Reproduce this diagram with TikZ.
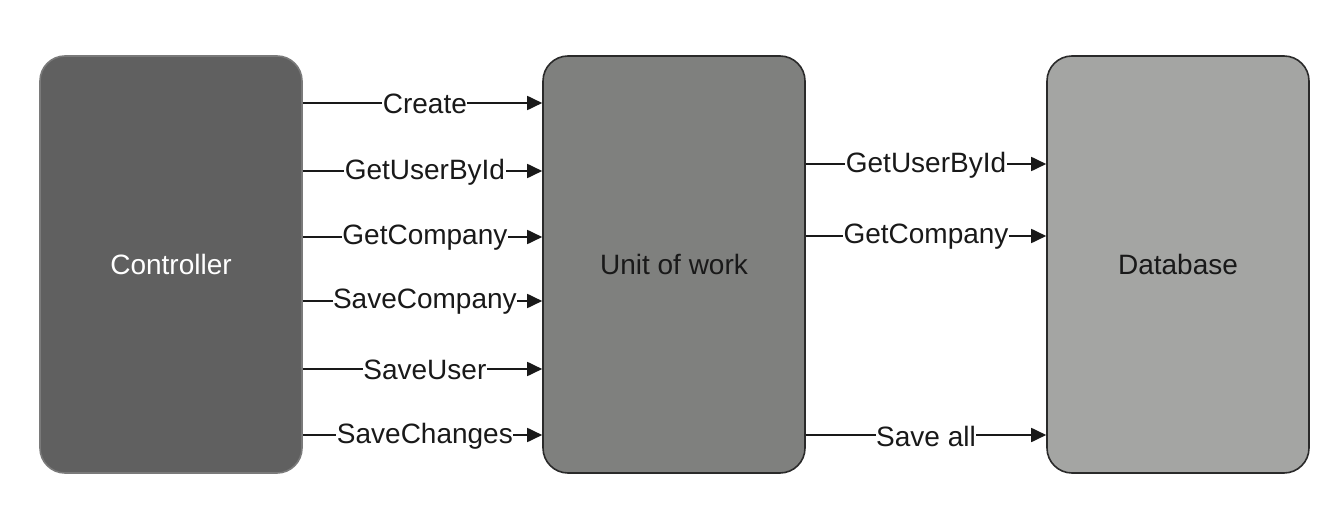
\documentclass[tikz,border=0pt]{standalone}
\usepackage{fontspec}
\setmainfont{Liberation Sans}
\usetikzlibrary{arrows.meta}
\definecolor{ctrlfill}{HTML}{606060}
\definecolor{ctrldraw}{HTML}{7A7A7A}
\definecolor{uowfill}{HTML}{7F807E}
\definecolor{dbfill}{HTML}{A4A5A3}
\definecolor{edge}{HTML}{2A2A2A}
\tikzset{
  blockbox/.style={rounded corners=25pt, line width=1.6pt, draw=edge, minimum width=262pt, minimum height=417pt, inner sep=0pt, font=\fontsize{28pt}{32pt}\selectfont},
  msg/.style={line width=1.8pt, draw=black!90, -{Triangle[length=15pt,width=14pt]}},
  lbl/.style={fill=white, inner xsep=0.5pt, inner ysep=1pt, text=black!90, font=\fontsize{28pt}{32pt}\selectfont, yshift=-1pt}
}
\begin{document}
\begin{tikzpicture}[x=1pt,y=-1pt]
\useasboundingbox (0,0) rectangle (1342,508);
\node[blockbox, fill=ctrlfill, draw=ctrldraw, text=white] (ctrl) at (171,264.5) {\raisebox{-2pt}{Controller}};
\node[blockbox, fill=uowfill, text=black!90] (uow) at (674,264.5) {\raisebox{-2pt}{Unit of work}};
\node[blockbox, fill=dbfill, text=black!90] (db) at (1178,264.5) {\raisebox{-2pt}{Database}};
% left arrows
\foreach \y/\t/\n in {103/Create/a, 171/GetUserById/b, 237/GetCompany/c, 301/SaveCompany/d, 369/SaveUser/e, 435/SaveChanges/f} {
  \coordinate (s\n) at (ctrl.east |- 0,\y);
  \coordinate (e\n) at (uow.west |- 0,\y);
  \draw[msg] (s\n) -- node[lbl, pos=0.51] {\t} (e\n);
}
% right arrows
\foreach \y/\t/\n in {164/GetUserById/g, 236/GetCompany/h, 435/Save all/i} {
  \coordinate (s\n) at (uow.east |- 0,\y);
  \coordinate (e\n) at (db.west |- 0,\y);
  \draw[msg] (s\n) -- node[lbl, pos=0.5] {\t} (e\n);
}
\end{tikzpicture}
\end{document}
